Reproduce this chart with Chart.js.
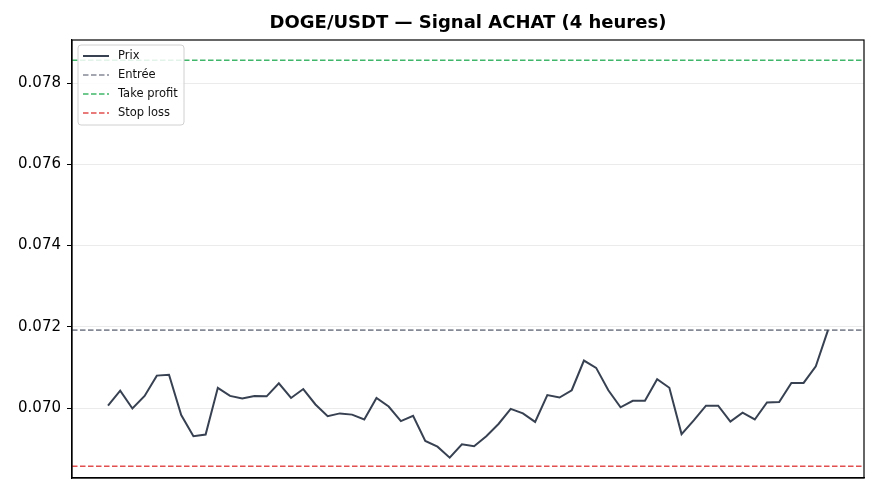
<!DOCTYPE html>
<html>
<head>
<meta charset="utf-8">
<script src="https://cdn.jsdelivr.net/npm/chart.js@4.4.1/dist/chart.umd.min.js"></script>
<style>
  html, body { margin: 0; padding: 0; background: #fff; }
  canvas { display: block; }
</style>
</head>
<body>
<canvas id="signal-chart" width="880" height="495"></canvas>
<script>
// prix de cloture, bougies 4h
const prix = [
  0.07006, 0.07043, 0.06999, 0.07030, 0.07080, 0.07082, 0.06983, 0.06931, 0.06935, 0.07050,
  0.07030, 0.07024, 0.07030, 0.07029, 0.07061, 0.07025, 0.07047, 0.07009, 0.06980, 0.06987,
  0.06984, 0.06972, 0.07025, 0.07004, 0.06968, 0.06981, 0.06919, 0.06905, 0.06878, 0.06911,
  0.06906, 0.06931, 0.06961, 0.06998, 0.06987, 0.06966, 0.07032, 0.07026, 0.07044, 0.07117,
  0.07099, 0.07044, 0.07002, 0.07018, 0.07018, 0.07071, 0.07050, 0.06936, 0.06970, 0.07006,
  0.07006, 0.06967, 0.06989, 0.06972, 0.07014, 0.07015, 0.07062, 0.07062, 0.07103, 0.07192
];
const entree = 0.07192;
const takeProfit = 0.07856;
const stopLoss = 0.06857;
const yTicks = [0.070, 0.072, 0.074, 0.076, 0.078];
const seriesLabels = ['Prix', 'Entrée', 'Take profit', 'Stop loss'];

const FONT = 'DejaVu Sans';
const xMin = -0.05 * (prix.length - 1);
const xMax = (prix.length - 1) * 1.05;

function hline(v) {
    return [{ x: xMin, y: v }, { x: xMax, y: v }];
}

// titre centre au-dessus de la zone du graphique (pas du canvas entier)
const centerTitle = {
    id: 'centerTitle',
    afterLayout(chart) {
        if (chart.titleBlock) {
            chart.titleBlock.left = chart.chartArea.left;
            chart.titleBlock.right = chart.chartArea.right;
        }
    }
};

// cadre autour de la zone du graphique
const framePlugin = {
    id: 'frame',
    afterDatasetsDraw(chart) {
        const a = chart.chartArea;
        const ctx = chart.ctx;
        ctx.save();
        ctx.strokeStyle = '#000';
        ctx.lineWidth = 1.2;
        ctx.strokeRect(a.left, a.top, a.right - a.left, a.bottom - a.top);
        ctx.restore();
    }
};

// legende dans le coin haut gauche, facon matplotlib
const boxLegend = {
    id: 'boxLegend',
    afterDraw(chart) {
        const ctx = chart.ctx;
        const a = chart.chartArea;
        const x = a.left + 6, y = a.top + 5, w = 106, h = 80;
        ctx.save();
        ctx.beginPath();
        ctx.roundRect(x, y, w, h, 3);
        ctx.fillStyle = 'rgba(255,255,255,0.85)';
        ctx.fill();
        ctx.strokeStyle = '#d0d0d0';
        ctx.lineWidth = 1;
        ctx.stroke();
        ctx.font = '11.5px "' + FONT + '"';
        ctx.textBaseline = 'middle';
        chart.data.datasets.forEach(function (ds, i) {
            const ry = y + 11 + i * 19;
            ctx.beginPath();
            ctx.setLineDash(ds.borderDash || []);
            ctx.strokeStyle = ds.borderColor;
            ctx.lineWidth = ds.borderWidth;
            ctx.moveTo(x + 5, ry);
            ctx.lineTo(x + 31, ry);
            ctx.stroke();
            ctx.setLineDash([]);
            ctx.fillStyle = '#111';
            ctx.fillText(ds.label, x + 40, ry);
        });
        ctx.restore();
    }
};

const ctx = document.getElementById('signal-chart').getContext('2d');
new Chart(ctx, {
    type: 'line',
    data: {
        datasets: [
            {
                label: seriesLabels[0],
                data: prix.map((v, i) => ({ x: i, y: v })),
                borderColor: '#374151',
                borderWidth: 2,
                pointRadius: 0,
                tension: 0
            },
            {
                label: seriesLabels[1],
                data: hline(entree),
                borderColor: '#868a97',
                borderWidth: 1.6,
                borderDash: [5.5, 2.5],
                pointRadius: 0
            },
            {
                label: seriesLabels[2],
                data: hline(takeProfit),
                borderColor: '#40b66a',
                borderWidth: 1.6,
                borderDash: [5.5, 2.5],
                pointRadius: 0
            },
            {
                label: seriesLabels[3],
                data: hline(stopLoss),
                borderColor: '#e24f4f',
                borderWidth: 1.6,
                borderDash: [5.5, 2.5],
                pointRadius: 0
            }
        ]
    },
    options: {
        responsive: false,
        animation: false,
        devicePixelRatio: 1,
        layout: { padding: { left: 0, right: 16, top: 0, bottom: 0 } },
        plugins: {
            legend: { display: false },
            tooltip: { enabled: false },
            title: {
                display: true,
                text: 'DOGE/USDT — Signal ACHAT (4 heures)',
                color: '#000',
                font: { family: FONT, size: 18, weight: 'bold' },
                padding: { top: 13, bottom: 5.4 }
            }
        },
        scales: {
            x: {
                type: 'linear',
                min: xMin,
                max: xMax,
                ticks: { display: false },
                grid: { display: false },
                border: { display: true, color: '#000', width: 1.2 },
                afterFit(scale) { scale.height = 17; }
            },
            y: {
                min: 0.06828,
                max: 0.07906,
                afterBuildTicks(scale) {
                    scale.ticks = yTicks.map(v => ({ value: v }));
                },
                ticks: {
                    color: '#000',
                    padding: 6,
                    font: { family: FONT, size: 15 },
                    callback: v => v.toFixed(3)
                },
                grid: { color: '#ebebeb', tickColor: '#000', tickLength: 5, lineWidth: 1 },
                border: { display: true, color: '#000', width: 1.2 },
                afterFit(scale) { scale.width = 72; }
            }
        }
    },
    plugins: [centerTitle, framePlugin, boxLegend]
});
</script>
</body>
</html>
